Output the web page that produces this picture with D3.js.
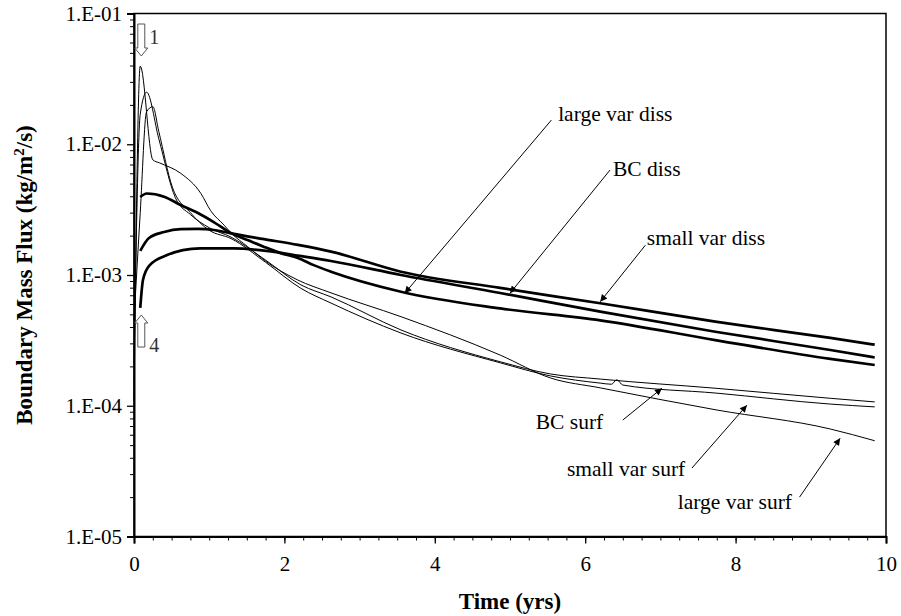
<!DOCTYPE html>
<html><head><meta charset="utf-8">
<script src="https://cdn.jsdelivr.net/npm/d3@7"></script>
<style>body{margin:0;background:#fff}svg{display:block}</style>
</head><body>
<script>
// ---------- data (time in years, boundary mass flux in kg/m2/s) ----------
const largeVarDissT = [0.083,0.17,0.4,0.62,0.85,1.06,1.29,1.51,1.73,1.95,2.18,2.39,2.62,3.55,4.87,6.2,7.73,9.26,9.85];
const largeVarDissV = [3.95e-3,4.2e-3,3.97e-3,3.43e-3,2.98e-3,2.54e-3,2.09e-3,1.85e-3,1.64e-3,1.47e-3,1.35e-3,1.19e-3,1.06e-3,7.45e-4,5.55e-4,4.5e-4,3.18e-4,2.28e-4,2.05e-4];

const bcDissT = [0.083,0.12,0.21,0.44,0.65,0.88,1.32,1.76,2.2,2.62,3.55,4.87,6.2,7.73,9.26,9.85];
const bcDissV = [5.6e-4,9.2e-4,1.19e-3,1.42e-3,1.55e-3,1.6e-3,1.6e-3,1.53e-3,1.4e-3,1.28e-3,1.0e-3,7.28e-4,5.24e-4,3.68e-4,2.67e-4,2.34e-4];

const smallVarDissT = [0.083,0.2,0.4,0.62,0.85,1.06,1.29,1.73,2.18,2.62,3.55,4.87,6.2,7.73,9.26,9.85];
const smallVarDissV = [1.53e-3,1.92e-3,2.13e-3,2.24e-3,2.25e-3,2.21e-3,2.08e-3,1.88e-3,1.7e-3,1.51e-3,1.06e-3,7.96e-4,6.08e-4,4.4e-4,3.3e-4,2.93e-4];

const largeVarSurfT = [0,0.083,0.25,0.34,0.62,0.89,1.02,1.2,1.29,1.51,1.73,2.17,2.62,3.55,4.87,5.54,6.2,7.74,9.26,9.85];
const largeVarSurfV = [1.1e-4,3.96e-2,7.6e-3,7.2e-3,6.0e-3,4.2e-3,3.1e-3,2.4e-3,2.1e-3,1.65e-3,1.3e-3,9.2e-4,7.3e-4,4.8e-4,2.44e-4,1.63e-4,1.37e-4,9.3e-5,6.64e-5,5.4e-5];

const bcSurfT = [0,0.083,0.167,0.33,0.55,0.75,1.0,1.29,1.75,2.22,2.62,3.55,4.87,5.54,6.2,7.74,9.26,9.85];
const bcSurfV = [2.1e-4,1.7e-2,2.5e-2,1.1e-2,3.9e-3,2.9e-3,2.3e-3,1.95e-3,1.3e-3,8.4e-4,6.8e-4,3.8e-4,2.17e-4,1.75e-4,1.6e-4,1.36e-4,1.14e-4,1.07e-4];

const smallVarSurfT = [0,0.083,0.167,0.25,0.33,0.51,0.75,1.0,1.29,1.75,2.22,2.62,3.55,4.87,5.54,6.2,6.35,6.42,6.5,7.74,9.26,9.85];
const smallVarSurfV = [4.5e-4,3.0e-3,1.77e-2,1.94e-2,1.25e-2,4.7e-3,3.0e-3,2.2e-3,1.9e-3,1.25e-3,7.9e-4,6.1e-4,3.6e-4,2.13e-4,1.69e-4,1.49e-4,1.46e-4,1.58e-4,1.44e-4,1.25e-4,1.03e-4,9.8e-5];

const xTickValues = [0,2,4,6,8,10];
const xTickLabels = ["0","2","4","6","8","10"];
const yTickValues = [1e-5,1e-4,1e-3,1e-2,1e-1];
const yTickLabels = ["1.E-05","1.E-04","1.E-03","1.E-02","1.E-01"];

// annotation callouts: text, text anchor point, arrow tail, arrow tip (data coords)
const calloutText   = ["large var diss","BC diss","small var diss","BC surf","small var surf","large var surf"];
const calloutTextT  = [5.64,6.37,6.82,6.24,7.33,8.75];
const calloutTextV  = [1.73e-2,6.58e-3,1.92e-3,7.64e-5,3.32e-5,1.85e-5];
const calloutAnchor = ["start","start","start","end","end","end"];
const calloutTailT  = [5.55,6.33,6.80,6.50,7.42,8.85];
const calloutTailV  = [1.53e-2,6.35e-3,1.69e-3,7.78e-5,3.34e-5,2.0e-5];
const calloutTipT   = [3.60,5.00,6.20,7.02,8.15,9.39];
const calloutTipV   = [7.25e-4,7.25e-4,6.25e-4,1.36e-4,1.01e-4,5.64e-5];

// block arrows "1" and "4"
const blockLabel = ["1","4"];
const blockT = [0.097,0.097];
const blockV = [4.73e-2,4.94e-4];
const blockDir = ["down","up"];

// ---------- drawing ----------
const W = 901, H = 616;
const L = 134, R = 886, T = 13.5, B = 536.5;
const FONT = "'Liberation Serif','Times New Roman',serif";

const svg = d3.select("body").append("svg").attr("width", W).attr("height", H);
const x = d3.scaleLinear().domain([0,10]).range([L,R]);
const y = d3.scaleLog().domain([1e-5,1e-1]).range([B,T]);

const defs = svg.append("defs");
defs.append("marker").attr("id","ah").attr("viewBox","0 0 10 10")
  .attr("refX",10).attr("refY",5).attr("markerWidth",9).attr("markerHeight",7)
  .attr("markerUnits","userSpaceOnUse").attr("orient","auto")
  .append("path").attr("d","M0,0 L10,5 L0,10 Z").attr("fill","#000");

// plot frame
svg.append("rect").attr("x",L).attr("y",T).attr("width",R-L).attr("height",B-T)
  .attr("fill","none").attr("stroke","#000").attr("stroke-width",1.5);

// minor ticks
const yMinor = [];
for (let e=-5;e<-1;e++) for (let m=2;m<=9;m++) yMinor.push(m*Math.pow(10,e));
svg.append("g").attr("transform",`translate(${L},0)`)
  .call(d3.axisLeft(y).tickValues(yMinor).tickSize(4).tickFormat(""))
  .call(g=>g.select(".domain").remove())
  .call(g=>g.selectAll("line").attr("stroke","#000"));
const xMinor = d3.range(0,10.001,0.25);
svg.append("g").attr("transform",`translate(0,${B})`)
  .call(d3.axisBottom(x).tickValues(xMinor).tickSize(4).tickFormat(""))
  .call(g=>g.select(".domain").remove())
  .call(g=>g.selectAll("line").attr("stroke","#000"));

// major axes
const yAxis = svg.append("g").attr("transform",`translate(${L},0)`)
  .call(d3.axisLeft(y).tickValues(yTickValues).tickSize(7).tickPadding(5)
    .tickFormat((d,i)=>yTickLabels[i]));
yAxis.select(".domain").attr("stroke","#000").attr("stroke-width",2);
yAxis.selectAll("line").attr("stroke","#000").attr("stroke-width",1.3);
yAxis.selectAll("text").attr("font-family",FONT).attr("font-size",21).attr("fill","#000");

const xAxis = svg.append("g").attr("transform",`translate(0,${B})`)
  .call(d3.axisBottom(x).tickValues(xTickValues).tickSize(7).tickPadding(13)
    .tickFormat((d,i)=>xTickLabels[i]));
xAxis.select(".domain").attr("stroke","#000").attr("stroke-width",2);
xAxis.selectAll("line").attr("stroke","#000").attr("stroke-width",1.3);
xAxis.selectAll("text").attr("font-family",FONT).attr("font-size",21).attr("fill","#000");

// axis titles
svg.append("text").attr("x",(L+R)/2).attr("y",609).attr("text-anchor","middle")
  .attr("font-family",FONT).attr("font-weight","bold").attr("font-size",23).text("Time (yrs)");
const yt = svg.append("text").attr("transform",`translate(32,${(T+B)/2}) rotate(-90)`)
  .attr("text-anchor","middle").attr("font-family",FONT).attr("font-weight","bold").attr("font-size",23);
yt.append("tspan").text("Boundary Mass Flux (kg/m");
yt.append("tspan").attr("baseline-shift","super").attr("font-size",15).text("2");
yt.append("tspan").text("/s)");

// series
const line = d3.line().x(d=>x(d[0])).y(d=>y(d[1])).curve(d3.curveMonotoneX);
const zip = (ts,vs)=>ts.map((t,i)=>[t,vs[i]]);
const series = [
  {t:largeVarSurfT, v:largeVarSurfV, w:1},
  {t:bcSurfT, v:bcSurfV, w:1},
  {t:smallVarSurfT, v:smallVarSurfV, w:1},
  {t:largeVarDissT, v:largeVarDissV, w:2.7},
  {t:bcDissT, v:bcDissV, w:2.7},
  {t:smallVarDissT, v:smallVarDissV, w:2.7}
];
svg.append("g").selectAll("path").data(series).join("path")
  .attr("d",s=>line(zip(s.t,s.v))).attr("fill","none").attr("stroke","#000")
  .attr("stroke-width",s=>s.w).attr("stroke-linejoin","round");

// callouts
const cg = svg.append("g");
calloutText.forEach((txt,i)=>{
  cg.append("line").attr("x1",x(calloutTailT[i])).attr("y1",y(calloutTailV[i]))
    .attr("x2",x(calloutTipT[i])).attr("y2",y(calloutTipV[i]))
    .attr("stroke","#000").attr("stroke-width",1).attr("marker-end","url(#ah)");
  cg.append("text").attr("x",x(calloutTextT[i])).attr("y",y(calloutTextV[i]))
    .attr("dy","0.35em").attr("text-anchor",calloutAnchor[i])
    .attr("font-family",FONT).attr("font-size",21.5).text(txt);
});

// block arrows
blockLabel.forEach((lab,i)=>{
  const px = x(blockT[i]), py = y(blockV[i]);
  const s = blockDir[i]==="down" ? 1 : -1;
  const pts = [[-3.5,-32],[3.5,-32],[3.5,-8],[6.5,-8],[0,0],[-6.5,-8],[-3.5,-8]]
    .map(p=>[px+p[0], py+s*p[1]]);
  svg.append("path").attr("d","M"+pts.map(p=>p.join(",")).join("L")+"Z")
    .attr("fill","#fff").attr("stroke","#555").attr("stroke-width",1);
  svg.append("text").attr("x",px+8).attr("y", s===1 ? py-19 : py+30).attr("dy","0.35em")
    .attr("font-family",FONT).attr("font-size",20).attr("fill","#333").text(lab);
});
</script>
</body></html>
